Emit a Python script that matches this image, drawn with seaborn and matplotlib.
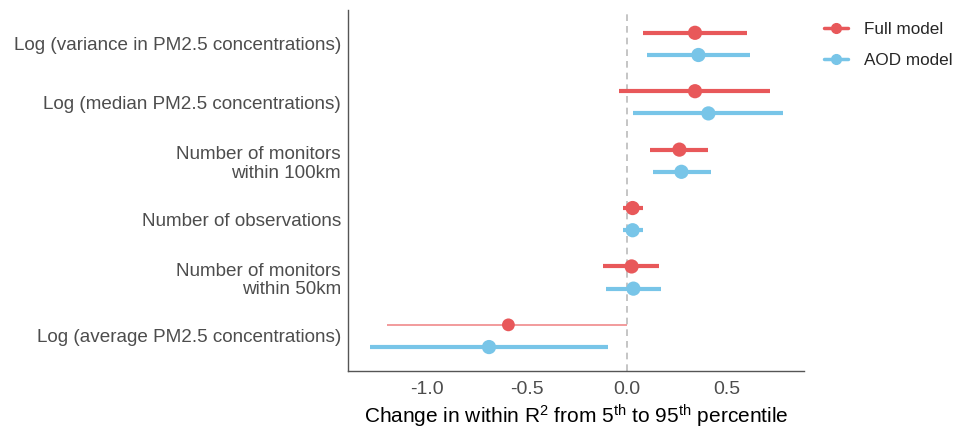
import matplotlib
matplotlib.use("Agg")
import matplotlib.pyplot as plt
from matplotlib.lines import Line2D
import seaborn as sns
import pandas as pd
import numpy as np

# data (top row first)
categories = [
    "Log (variance in PM2.5 concentrations)",
    "Log (median PM2.5 concentrations)",
    "Number of monitors\nwithin 100km",
    "Number of observations",
    "Number of monitors\nwithin 50km",
    "Log (average PM2.5 concentrations)",
]
full_est = [0.34, 0.34, 0.262, 0.028, 0.023, -0.593]
full_lo = [0.078, -0.042, 0.115, -0.018, -0.118, -1.198]
full_hi = [0.598, 0.715, 0.407, 0.078, 0.16, 0.002]
full_faded = [False, False, False, False, False, True]

aod_est = [0.357, 0.407, 0.272, 0.028, 0.032, -0.69]
aod_lo = [0.098, 0.032, 0.128, -0.018, -0.107, -1.285]
aod_hi = [0.615, 0.782, 0.418, 0.078, 0.17, -0.097]

models = ["Full model", "AOD model"]
colors = {"Full model": "#E8585A", "AOD model": "#78C5E8"}

full = pd.DataFrame({"term": categories, "est": full_est, "lo": full_lo,
                     "hi": full_hi, "faded": full_faded, "model": "Full model"})
aod = pd.DataFrame({"term": categories, "est": aod_est, "lo": aod_lo,
                    "hi": aod_hi, "faded": False, "model": "AOD model"})
df = pd.concat([full, aod], ignore_index=True)
offset = {"Full model": -0.19, "AOD model": 0.19}
df["y"] = df["term"].map({c: i for i, c in enumerate(categories)}) + df["model"].map(offset)

sns.set_style("white")
plt.rcParams["font.family"] = ["Liberation Sans", "DejaVu Sans"]
plt.rcParams["mathtext.fontset"] = "custom"
plt.rcParams["mathtext.rm"] = "Liberation Sans"
plt.rcParams["mathtext.default"] = "regular"

fig = plt.figure(figsize=(9.68, 4.3), dpi=100)
ax = fig.add_axes([0.3595, 0.1372, 0.8306 - 0.3595, 0.9767 - 0.1372])

ax.axvline(0, color="#BBBBBB", linestyle=(0, (4, 3)), linewidth=1.2, zorder=1)

for _, r in df.iterrows():
    if r["faded"]:
        ax.hlines(r["y"], r["lo"], r["hi"], color="#F08A8B", linewidth=1.2, zorder=2)
    else:
        ax.hlines(r["y"], r["lo"], r["hi"], color=colors[r["model"]], linewidth=3.0, zorder=2)

faded = df["faded"].astype(bool)
sns.scatterplot(data=df[~faded], x="est", y="y", hue="model",
                palette=colors, s=105, edgecolor="none", legend=False, ax=ax, zorder=3)
sns.scatterplot(data=df[faded], x="est", y="y", hue="model",
                palette=colors, s=85, edgecolor="none", legend=False, ax=ax, zorder=3)

ax.set_xlim(-1.395, 0.885)
ax.set_ylim(5.6, -0.58)
ax.set_yticks(range(len(categories)))
ax.set_yticklabels(categories, linespacing=1.15)
ax.set_xticks([-1.0, -0.5, 0.0, 0.5])
ax.set_xticklabels(["-1.0", "-0.5", "0.0", "0.5"])
ax.tick_params(axis="both", length=3, width=0.8, color="#555555",
               labelcolor="#4D4D4D", labelsize=13.6, pad=2)
ax.tick_params(axis="x", labelsize=14, pad=4)
ax.set_xlabel(r"Change in within R$^2$ from 5$^{th}$ to 95$^{th}$ percentile",
              fontsize=15, color="black", labelpad=4)
ax.set_ylabel("")
sns.despine(ax=ax)
for s in ["left", "bottom"]:
    ax.spines[s].set_color("#555555")
    ax.spines[s].set_linewidth(1.0)

handles = [Line2D([0], [0], color=colors[m], linewidth=2.5, marker="o", markersize=7)
           for m in models]
fig.legend(handles, models, loc="upper left", bbox_to_anchor=(0.835, 0.985),
           frameon=False, fontsize=12.3, handlelength=1.45, labelspacing=0.95,
           handletextpad=0.9)

fig.savefig("out.png", dpi=100)
